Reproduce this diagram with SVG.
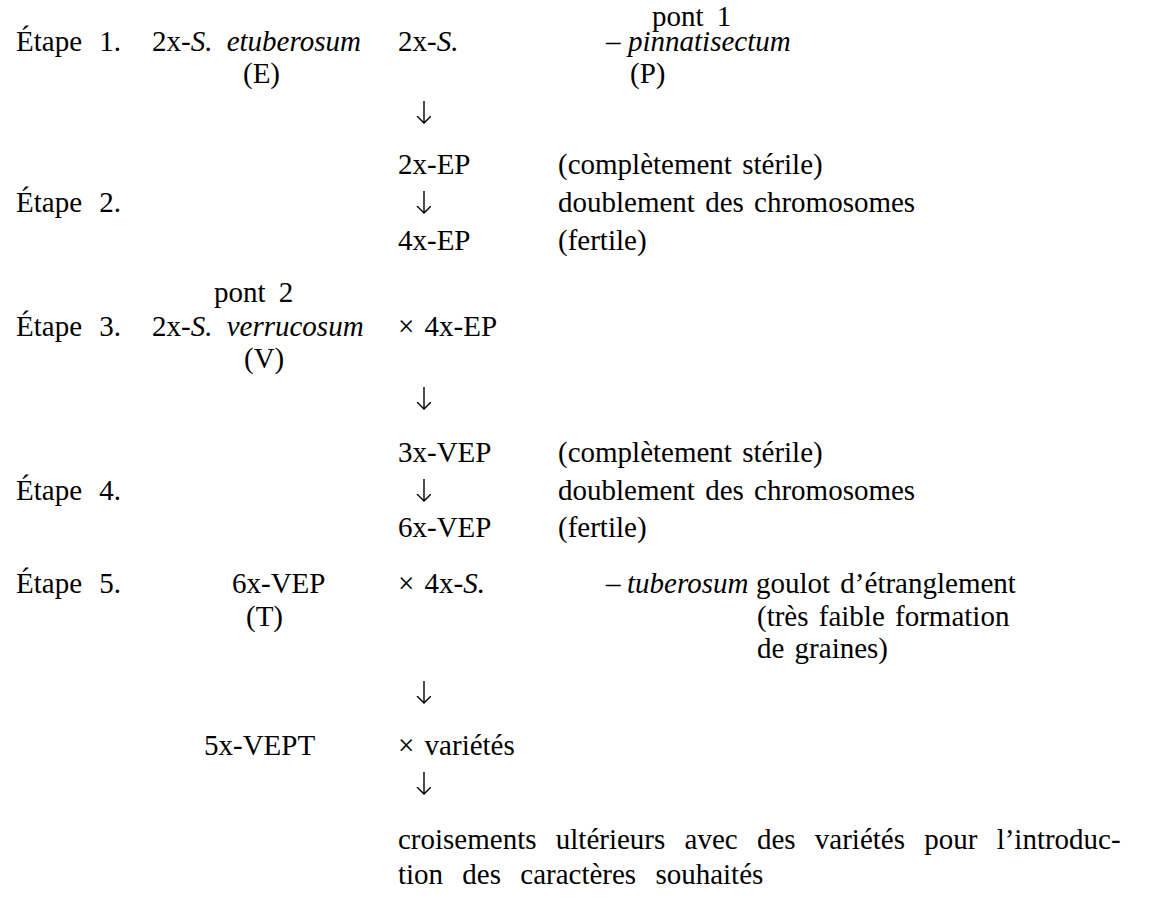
<svg xmlns="http://www.w3.org/2000/svg" width="1162" height="918" viewBox="0 0 1162 918">
<style>
text{font-family:"Liberation Serif","Times New Roman",serif;font-size:29px;fill:#000;word-spacing:3px}
.i{font-style:italic}
.step{word-spacing:10px}
.arr{stroke:#000;stroke-width:1.4;fill:none}
</style>
<defs>
<marker id="ah" markerUnits="userSpaceOnUse" markerWidth="16" markerHeight="16" refX="7" refY="7" orient="auto" viewBox="0 0 16 16">
<path d="M0,0 L7,7 L0,14" fill="none" stroke="#000" stroke-width="1.4"/>
</marker>
</defs>
<rect width="1162" height="918" fill="#fff"/>
<g id="labels">
<text class="step" x="16" y="51">Étape 1.</text>
<text class="step" x="16" y="212">Étape 2.</text>
<text class="step" x="16" y="336">Étape 3.</text>
<text class="step" x="16" y="500">Étape 4.</text>
<text class="step" x="16" y="593">Étape 5.</text>
</g>
<g id="n-etuberosum">
<text x="152" y="51" style="word-spacing:7px">2x-<tspan class="i">S. etuberosum</tspan></text>
<text x="243" y="83">(E)</text>
</g>
<g id="n-pinnatisectum">
<text x="652" y="26" style="word-spacing:6px">pont 1</text>
<text x="398" y="51">2x-<tspan class="i">S.</tspan></text>
<text x="606" y="51">–</text>
<text class="i" x="628" y="51">pinnatisectum</text>
<text x="630" y="83">(P)</text>
</g>
<g id="n-2xEP">
<text x="398" y="174">2x-EP</text>
<text x="558" y="174">(complètement stérile)</text>
</g>
<g id="n-doubling1">
<text x="558" y="212">doublement des chromosomes</text>
</g>
<g id="n-4xEP">
<text x="398" y="250">4x-EP</text>
<text x="558" y="250">(fertile)</text>
</g>
<g id="n-verrucosum">
<text x="214" y="302" style="word-spacing:6px">pont 2</text>
<text x="152" y="336" style="word-spacing:7px">2x-<tspan class="i">S. verrucosum</tspan></text>
<text x="244" y="368">(V)</text>
<text x="398" y="336">× 4x-EP</text>
</g>
<g id="n-3xVEP">
<text x="398" y="462">3x-VEP</text>
<text x="558" y="462">(complètement stérile)</text>
</g>
<g id="n-doubling2">
<text x="558" y="500">doublement des chromosomes</text>
</g>
<g id="n-6xVEP">
<text x="398" y="537">6x-VEP</text>
<text x="558" y="537">(fertile)</text>
</g>
<g id="n-tuberosum">
<text x="232" y="593">6x-VEP</text>
<text x="246" y="626">(T)</text>
<text x="398" y="593">× 4x-<tspan class="i">S.</tspan></text>
<text x="606" y="593">–</text>
<text class="i" x="627" y="593">tuberosum</text>
<text x="756" y="593">goulot d’étranglement</text>
<text x="757" y="626">(très faible formation</text>
<text x="757" y="658">de graines)</text>
</g>
<g id="n-5xVEPT">
<text x="204" y="755">5x-VEPT</text>
<text x="398" y="755">× variétés</text>
</g>
<g id="n-final">
<text x="398" y="849" style="word-spacing:12px">croisements ultérieurs avec des variétés pour l’introduc-</text>
<text x="398" y="884" style="word-spacing:12px">tion des caractères souhaités</text>
</g>
<g id="connectors" class="arr">
<line x1="424" y1="101" x2="424" y2="123" marker-end="url(#ah)"/>
<line x1="424" y1="191" x2="424" y2="213" marker-end="url(#ah)"/>
<line x1="424" y1="387" x2="424" y2="409" marker-end="url(#ah)"/>
<line x1="424" y1="479" x2="424" y2="501" marker-end="url(#ah)"/>
<line x1="424" y1="681" x2="424" y2="703" marker-end="url(#ah)"/>
<line x1="424" y1="772" x2="424" y2="794" marker-end="url(#ah)"/>
</g>
</svg>
